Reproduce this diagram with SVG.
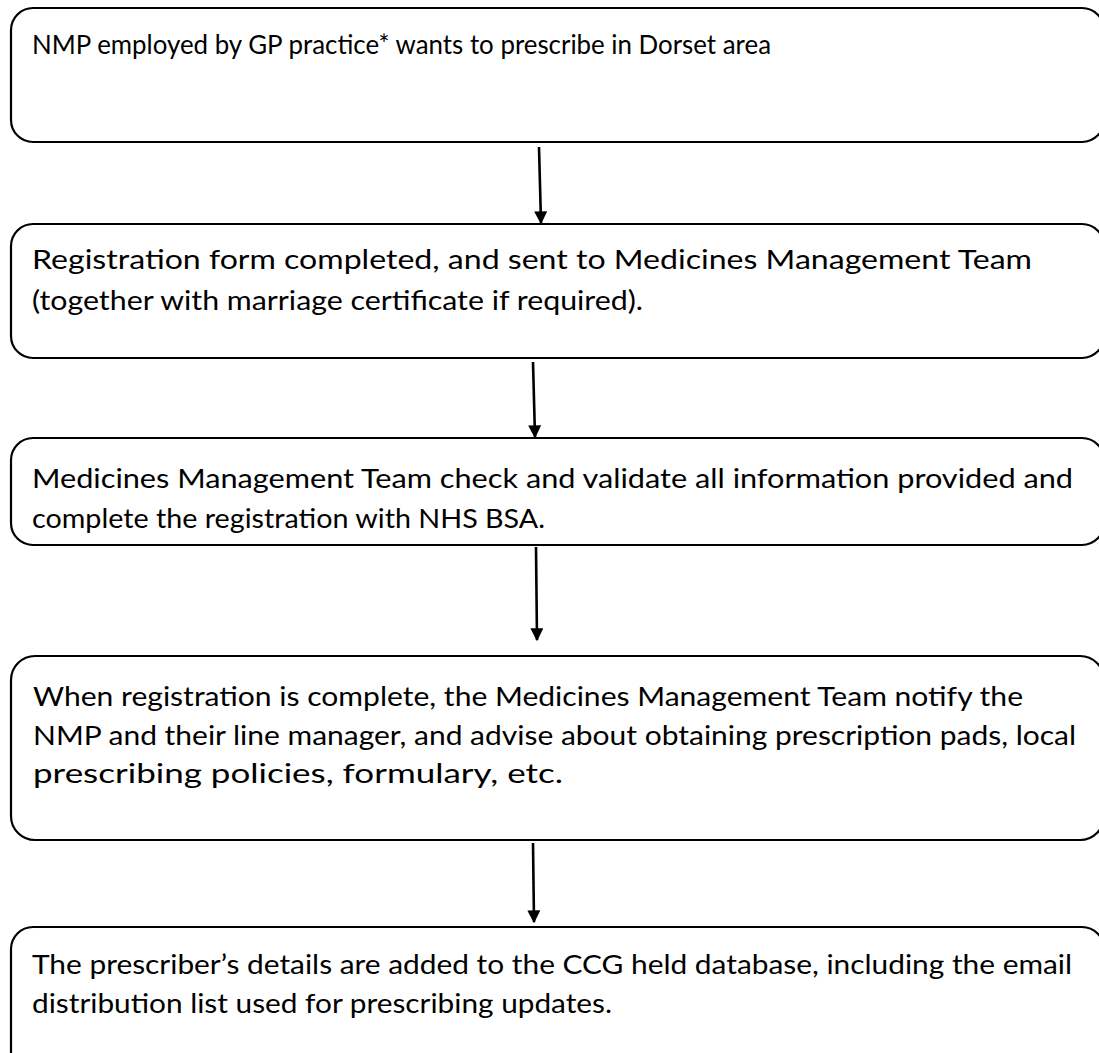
<svg xmlns="http://www.w3.org/2000/svg" width="1099" height="1053" viewBox="0 0 1099 1053">
<style>
.box{fill:#fff;stroke:#000;stroke-width:2.2}
.t{font-family:Lato,"Liberation Sans",sans-serif;font-size:27.5px;fill:#000}
.c{stroke:#000;stroke-width:2.6;fill:none}
</style>
<defs>
<marker id="ah" viewBox="0 0 10 10" refX="9" refY="5" markerWidth="5" markerHeight="5" markerUnits="strokeWidth" orient="auto">
<path d="M0,0 L10,5 L0,10 z" fill="#000"/>
</marker>
</defs>
<rect width="1099" height="1053" fill="#fff"/>
<g id="node1">
<rect class="box" x="11" y="8" width="1093" height="134" rx="22" ry="22"/>
<text class="t" x="32" y="54" textLength="739" lengthAdjust="spacingAndGlyphs">NMP employed by GP practice* wants to prescribe in Dorset area</text>
</g>
<g id="node2">
<rect class="box" x="11" y="224" width="1093" height="134" rx="22" ry="22"/>
<text class="t" x="32" y="269" textLength="1000" lengthAdjust="spacingAndGlyphs">Registration form completed, and sent to Medicines Management Team</text>
<text class="t" x="32" y="310" textLength="611" lengthAdjust="spacingAndGlyphs">(together with marriage certificate if required).</text>
</g>
<g id="node3">
<rect class="box" x="11" y="438" width="1093" height="107" rx="22" ry="22"/>
<text class="t" x="32" y="488" textLength="1041" lengthAdjust="spacingAndGlyphs">Medicines Management Team check and validate all information provided and</text>
<text class="t" x="32" y="528" textLength="513" lengthAdjust="spacingAndGlyphs">complete the registration with NHS BSA.</text>
</g>
<g id="node4">
<rect class="box" x="11" y="656" width="1093" height="184" rx="24" ry="24"/>
<text class="t" x="33" y="706" textLength="990" lengthAdjust="spacingAndGlyphs">When registration is complete, the Medicines Management Team notify the</text>
<text class="t" x="33" y="745" textLength="1043" lengthAdjust="spacingAndGlyphs">NMP and their line manager, and advise about obtaining prescription pads, local</text>
<text class="t" x="33" y="783" textLength="530" lengthAdjust="spacingAndGlyphs">prescribing policies, formulary, etc.</text>
</g>
<g id="node5">
<rect class="box" x="11" y="927" width="1093" height="160" rx="22" ry="22"/>
<text class="t" x="32" y="974" textLength="1040" lengthAdjust="spacingAndGlyphs">The prescriber’s details are added to the CCG held database, including the email</text>
<text class="t" x="32" y="1013" textLength="580" lengthAdjust="spacingAndGlyphs">distribution list used for prescribing updates.</text>
</g>
<g id="connectors">
<line class="c" x1="539" y1="147" x2="541" y2="223" marker-end="url(#ah)"/>
<line class="c" x1="533" y1="362" x2="535" y2="437" marker-end="url(#ah)"/>
<line class="c" x1="536" y1="547" x2="537" y2="640" marker-end="url(#ah)"/>
<line class="c" x1="533" y1="843" x2="534" y2="922" marker-end="url(#ah)"/>
</g>
</svg>
